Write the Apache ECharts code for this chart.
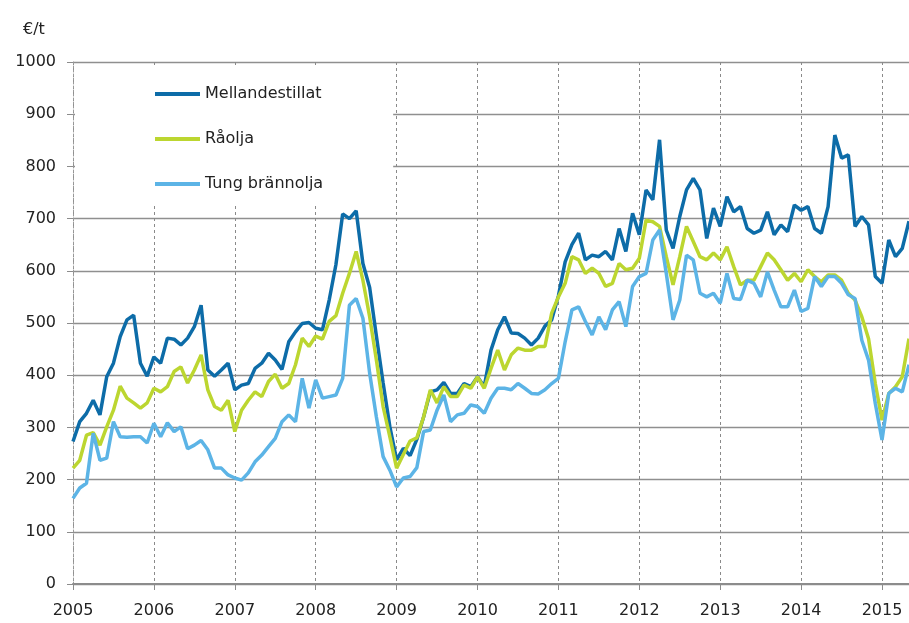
<!DOCTYPE html>
<html lang="sv">
<head>
  <meta charset="UTF-8">
  <title>Mellandestillat, råolja, tung brännolja</title>
  <style>
    html, body { margin: 0; padding: 0; background: #fff; }
    #main { width: 909px; height: 623px; }
  </style>
</head>
<body>
  <div id="main"></div>

  <script src="https://cdn.jsdelivr.net/npm/echarts@6/dist/echarts.min.js"></script>
  <script>
    // månadsvärden jan 2005 - maj 2015, €/t
    var firstYear = 2005;
    var seriesNames = ['Mellandestillat', 'Råolja', 'Tung brännolja'];

    var mellandestillat = [
      273, 311, 327, 352, 324, 397, 423, 474, 506, 515, 423, 398,
      435, 423, 471, 469, 458, 471, 493, 534, 410, 398, 410, 423,
      372, 381, 384, 413, 423, 442, 429, 411, 464, 483, 499, 501,
      490, 487, 544, 612, 709, 700, 715, 614, 568, 475, 385, 301,
      238, 260, 246, 277, 320, 368, 372, 386, 365, 365, 384, 378,
      397, 378, 448, 487, 512, 481, 480, 471, 458, 471, 494, 506,
      552, 617, 650, 672, 621, 630, 627, 637, 621, 681, 637, 710,
      669, 755, 736, 851, 678, 643, 704, 755, 777, 755, 662, 720,
      685, 742, 713, 723, 681, 672, 678, 713, 669, 688, 675, 726,
      716, 723, 681, 672, 723, 860, 816, 822, 685, 704, 688, 589,
      576, 659, 627, 643, 695
    ];

    var raolja = [
      222, 237, 285, 290, 266, 301, 333, 379, 356, 347, 337, 347,
      375, 368, 378, 407, 416, 385, 410, 439, 372, 340, 333, 352,
      292, 333, 352, 368, 359, 388, 402, 375, 384, 420, 471, 455,
      475, 469, 503, 514, 557, 595, 637, 582, 512, 429, 340, 282,
      222, 248, 274, 280, 320, 372, 347, 378, 359, 359, 381, 375,
      397, 375, 413, 448, 410, 439, 452, 448, 448, 455, 455, 519,
      550, 576, 627, 621, 595, 605, 595, 570, 576, 614, 602, 605,
      624, 697, 694, 685, 627, 573, 627, 685, 656, 627, 621, 634,
      621, 646, 608, 573, 582, 582, 608, 634, 621, 602, 582, 595,
      579, 602, 589, 579, 592, 592, 582, 557, 544, 512, 470, 384,
      314, 365, 378, 397, 470
    ];

    var tungBrannolja = [
      164, 184, 193, 289, 237, 241, 311, 282, 281, 282, 282, 270,
      308, 282, 309, 292, 301, 259, 266, 275, 257, 222, 222, 209,
      203, 199, 213, 234, 247, 263, 279, 311, 324, 311, 394, 337,
      391, 356, 359, 362, 394, 534, 547, 509, 404, 320, 244, 218,
      186, 203, 206, 223, 292, 295, 333, 362, 311, 324, 327, 343,
      340, 327, 356, 375, 375, 372, 384, 375, 365, 364, 372, 384,
      394, 464, 525, 531, 503, 477, 512, 487, 525, 541, 493, 570,
      589, 595, 659, 678, 595, 506, 544, 630, 621, 557, 550, 557,
      538, 595, 547, 545, 582, 576, 550, 598, 563, 531, 531, 563,
      522, 528, 589, 570, 589, 589, 576, 554, 547, 467, 429, 346,
      276, 365, 375, 368, 420
    ];

    var colors = ['#0d6ca8', '#bcd630', '#5cb4e6'];
    var font = 'DejaVu Sans';

    function toPoints(arr) {
      return arr.map(function (v, i) { return [i, v]; });
    }

    var myChart = echarts.init(document.getElementById('main'), null, { renderer: 'canvas' });

    var option = {
      animation: false,
      backgroundColor: '#fff',
      color: colors,
      title: {
        text: '€/t',
        left: 18,
        top: 17,
        textStyle: { fontFamily: font, fontSize: 16, fontWeight: 'normal', color: '#222' }
      },
      grid: { left: 73, right: 0, top: 62, bottom: 39, containLabel: false },
      legend: {
        orient: 'vertical',
        left: 75,
        top: 68,
        padding: [18, 70, 14, 80],
        backgroundColor: '#fff',
        itemWidth: 45,
        itemHeight: 4,
        itemGap: 29,
        icon: 'rect',
        data: seriesNames,
        textStyle: { fontFamily: font, fontSize: 16, color: '#222', lineHeight: 16 }
      },
      xAxis: {
        type: 'value',
        min: 0,
        max: 124,
        interval: 12,
        axisLine: { show: true, onZero: false, lineStyle: { color: '#8c8c8c', width: 2 } },
        axisTick: { show: true, length: 6, lineStyle: { color: '#8c8c8c' } },
        axisLabel: {
          margin: 19,
          fontFamily: font,
          fontSize: 16,
          color: '#222',
          showMaxLabel: false,
          formatter: function (v) { return v % 12 === 0 ? String(firstYear + v / 12) : ''; }
        },
        splitLine: { show: true, lineStyle: { color: '#8a8a8a', type: [3, 3], width: 1 } }
      },
      yAxis: {
        type: 'value',
        min: 0,
        max: 1000,
        interval: 100,
        axisLine: { show: true, lineStyle: { color: '#9a9a9a', type: [2, 2], width: 1 } },
        axisTick: { show: true, length: 6, lineStyle: { color: '#8c8c8c' } },
        axisLabel: {
          margin: 17, fontFamily: font, fontSize: 16, color: '#222',
          formatter: function (v) { return String(v); }
        },
        splitLine: { show: true, lineStyle: { color: '#8f8f8f', width: 1.4 } }
      },
      series: [
        {
          name: seriesNames[0], type: 'line', data: toPoints(mellandestillat),
          showSymbol: false, lineStyle: { width: 3.5 }
        },
        {
          name: seriesNames[1], type: 'line', data: toPoints(raolja),
          showSymbol: false, lineStyle: { width: 3.5 }
        },
        {
          name: seriesNames[2], type: 'line', data: toPoints(tungBrannolja),
          showSymbol: false, lineStyle: { width: 3.5 }
        }
      ]
    };

    myChart.setOption(option);
  </script>
</body>
</html>
